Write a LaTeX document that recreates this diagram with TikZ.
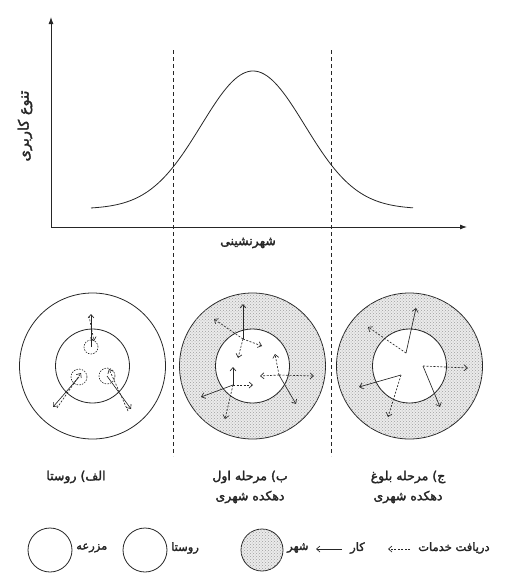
\documentclass[tikz,border=0pt]{standalone}
\usepackage{fontspec}
\TeXXeTstate=1
\newfontfamily\arabicfont[Script=Arabic,FakeBold=2.2]{DejaVu Sans}
\usetikzlibrary{arrows.meta,patterns}
\newcommand{\fa}[1]{\beginR #1\endR}
\begin{document}
\begin{tikzpicture}[x=1pt,y=-1pt,
  ring/.style={draw=black!85, line width=0.8pt},
  hatchring/.style={ring, fill=gray!16, postaction={pattern=crosshatch dots, pattern color=gray!75}},
  sol/.style={draw=black!85, line width=0.65pt, -{Straight Barb[length=3.5pt,width=6pt]}},
  das/.style={sol, dash pattern=on 2pt off 1.5pt},
  vdash/.style={draw=black!85, line width=1pt, dash pattern=on 4pt off 3pt},
  axis/.style={draw=black!85, line width=0.9pt, -{Latex[length=7pt,width=5pt]}},
  lbl/.style={font=\arabicfont\fontsize{12.5}{20}\selectfont, align=center, inner sep=0pt, text=black!85},
  leg/.style={font=\arabicfont\fontsize{11.5}{14}\selectfont, inner sep=0pt, text=black!85, anchor=west}]
\useasboundingbox (0,0) rectangle (515,573);
% ---------- graph ----------
\coordinate (O) at (51,227);
\coordinate (Ytop) at (51,17);
\coordinate (Xend) at (467,227);
\draw[axis] (O) -- (Ytop);
\draw[axis] (O) -- (Xend);
\draw[line width=0.8pt, black!85] plot[domain=91:413, samples=120, smooth] (\x, {209-138*exp(-((\x-253)/51.8)^2/2)});
\node[lbl] (xl) at (248,243) {\fa{شهرنشینی}};
\node[lbl, font=\arabicfont\fontsize{14.5}{16}\selectfont, rotate=90] (yl) at (25,126) {\fa{تنوع کاربری}};
% ---------- circles ----------
\coordinate (A) at (92.5,366);
\coordinate (B) at (252.5,366);
\coordinate (C) at (409.5,366);
\draw[ring] (A) circle[radius=73pt];
\draw[ring] (A) circle[radius=37pt];
\draw[hatchring] (B) circle[radius=73pt];
\draw[ring, fill=white] (B) circle[radius=37pt];
\draw[hatchring] (C) circle[radius=73pt];
\draw[ring, fill=white] (C) circle[radius=37pt];
% left group: farms
\coordinate (a1) at (91,347);
\coordinate (a2) at (79,377);
\coordinate (a3) at (107,376);
\draw[ring, line width=0.6pt, dash pattern=on 1.5pt off 1.2pt] (a1) circle[radius=7pt];
\draw[ring, line width=0.6pt, dash pattern=on 1.5pt off 1.2pt] (a2) circle[radius=8pt];
\draw[ring, line width=0.6pt, dash pattern=on 1.5pt off 1.2pt] (a3) circle[radius=8pt];
\coordinate (a1o) at (91,314);
\coordinate (a1i) at (89,316);
\coordinate (a1e) at (94,341);
\coordinate (a2o) at (53,407);
\coordinate (a2i) at (57,408);
\coordinate (a2e) at (81,373);
\coordinate (a3o) at (131,409);
\coordinate (a3i) at (128,411);
\coordinate (a3e) at (109,369);
\draw[sol] (a1) -- (a1o);
\draw[das] (a1i) -- (a1e);
\draw[sol] (a2) -- (a2o);
\draw[das] (a2i) -- (a2e);
\draw[sol] (a3) -- (a3o);
\draw[das] (a3i) -- (a3e);
% middle group
\coordinate (p1) at (243,339);
\coordinate (p1a) at (243,304);
\coordinate (p1b) at (214,319);
\coordinate (p1c) at (262,346);
\coordinate (p1d) at (238,358);
\draw[sol] (p1) -- (p1a);
\draw[das] (p1) -- (p1b);
\draw[das] (p1) -- (p1c);
\draw[das] (p1) -- (p1d);
\coordinate (p2) at (233,385);
\coordinate (p2a) at (233,367);
\coordinate (p2b) at (201,397);
\coordinate (p2c) at (253,385);
\coordinate (p2d) at (225,419);
\draw[sol] (p2) -- (p2a);
\draw[sol] (p2) -- (p2b);
\draw[das] (p2) -- (p2c);
\draw[das] (p2) -- (p2d);
\coordinate (p3) at (279,375);
\coordinate (p3a) at (260,376);
\coordinate (p3b) at (314,376);
\coordinate (p3c) at (275,354);
\coordinate (p3d) at (296,404);
\draw[das] (p3) -- (p3a);
\draw[das] (p3) -- (p3b);
\draw[das] (p3) -- (p3c);
\draw[sol] (p3) -- (p3d);
% right group
\coordinate (q1) at (406,353);
\coordinate (q1a) at (416,308);
\coordinate (q1b) at (368,327);
\draw[sol] (q1) -- (q1a);
\draw[das] (q1) -- (q1b);
\coordinate (q2) at (401,375);
\coordinate (q2a) at (359,387);
\coordinate (q2b) at (388,417);
\draw[sol] (q2) -- (q2a);
\draw[das] (q2) -- (q2b);
\coordinate (q3) at (423,366);
\coordinate (q3a) at (468,368);
\coordinate (q3b) at (440,407);
\draw[das] (q3) -- (q3a);
\draw[sol] (q3) -- (q3b);
% ---------- dashed separators ----------
\coordinate (d1t) at (173,50);
\coordinate (d1b) at (173,456);
\coordinate (d2t) at (331,50);
\coordinate (d2b) at (331,456);
\draw[vdash] (d1t) -- (d1b);
\draw[vdash] (d2t) -- (d2b);
% ---------- stage labels ----------
\node[lbl] (la) at (76,477) {\fa{الف) روستا}};
\node[lbl] (lb) at (250,487) {\fa{ب) مرحله اول}\\\fa{دهکده شهری}};
\node[lbl] (lc) at (408,487) {\fa{ج) مرحله بلوغ}\\\fa{دهکده شهری}};
% ---------- legend ----------
\draw[ring] (50,550) circle[radius=22pt];
\node[leg] (g1) at (76,548) {\fa{مزرعه}};
\draw[ring] (145,550) circle[radius=22pt];
\node[leg] (g2) at (171,548) {\fa{روستا}};
\draw[hatchring] (262,550) circle[radius=21pt];
\node[leg] (g3) at (287,548) {\fa{شهر}};
\coordinate (s1) at (342,549);
\coordinate (s2) at (316,549);
\draw[sol] (s1) -- (s2);
\node[leg] (g4) at (350,548) {\fa{کار}};
\coordinate (t1) at (410,549);
\coordinate (t2) at (388,549);
\draw[das] (t1) -- (t2);
\node[leg] (g5) at (418,548) {\fa{دریافت خدمات}};
\end{tikzpicture}
\end{document}
